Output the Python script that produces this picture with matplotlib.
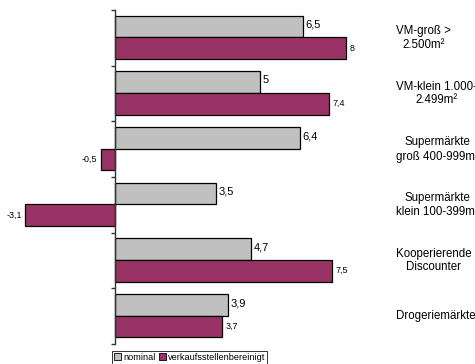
import matplotlib
matplotlib.use("Agg")
import matplotlib.pyplot as plt
import numpy as np
from matplotlib import transforms
from matplotlib.patches import Patch

plt.rcParams["font.family"] = ["Liberation Sans", "DejaVu Sans"]

categories = [
    "VM-groß >\n2.500m²",
    "VM-klein 1.000-\n2.499m²",
    "Supermärkte\ngroß 400-999m²",
    "Supermärkte\nklein 100-399m²",
    "Kooperierende\nDiscounter",
    "Drogeriemärkte",
]
nominal = [6.5, 5.0, 6.4, 3.5, 4.7, 3.9]
bereinigt = [8.0, 7.4, -0.5, -3.1, 7.5, 3.7]
series_names = ["nominal", "verkaufsstellenbereinigt"]

GRAY = "#C0C0C0"
RED = "#993366"


def fmt(v):
    s = "%g" % v
    return s.replace(".", ",")


fig = plt.figure(figsize=(4.75, 3.64), dpi=100)
W, H = 475.0, 364.0
ax = fig.add_axes([2.3 / W, 20 / H, 358.35 / W, 334 / H])
ax.set_xlim(-3.9, 8.5)
ax.set_ylim(len(categories), 0)

centers = np.arange(len(categories)) + 0.49
h = 0.39
ax.barh(centers - h / 2, nominal, height=h, color=GRAY, edgecolor="black", linewidth=0.9)
ax.barh(centers + h / 2, bereinigt, height=h, color=RED, edgecolor="black", linewidth=0.9)

for y, v in zip(centers - h / 2, nominal):
    ax.text(v + 0.1, y - 0.03, fmt(v), fontsize=8, va="center", ha="left")
for y, v in zip(centers + h / 2, bereinigt):
    if v >= 0:
        ax.text(v + 0.12, y, fmt(v), fontsize=6.4, va="center", ha="left")
    else:
        ax.text(v - 0.12, y, fmt(v), fontsize=6.4, va="center", ha="right")

# category labels on the right side
trans = transforms.blended_transform_factory(fig.transFigure, ax.transData)
for y, lab in zip(np.arange(len(categories)) + 0.5, categories):
    ax.text(396 / W, y, lab, transform=trans, fontsize=8.3, ha="left",
            va="center", multialignment="center", linespacing=1.2)

for s in ["top", "right", "bottom"]:
    ax.spines[s].set_visible(False)
ax.spines["left"].set_position(("data", 0))
ax.spines["left"].set_color("#333333")
ax.spines["left"].set_linewidth(1.0)
ax.set_xticks([])
ax.set_yticks(np.arange(len(categories) + 1))
ax.set_yticklabels([])
ax.tick_params(axis="y", direction="out", length=3, width=1, color="#333333")

handles = [Patch(facecolor=GRAY, edgecolor="black", linewidth=0.6),
           Patch(facecolor=RED, edgecolor="black", linewidth=0.6)]
leg = fig.legend(handles, series_names, loc="upper left",
                 bbox_to_anchor=(112 / W, 1 - 351 / H), ncol=2, fontsize=6.6,
                 frameon=True, fancybox=False, handlelength=0.8, handleheight=0.8,
                 handletextpad=0.2, columnspacing=0.4, borderpad=0.2,
                 borderaxespad=0.0)
leg.get_frame().set_edgecolor("black")
leg.get_frame().set_linewidth(0.7)

fig.savefig("out.png", dpi=100)
